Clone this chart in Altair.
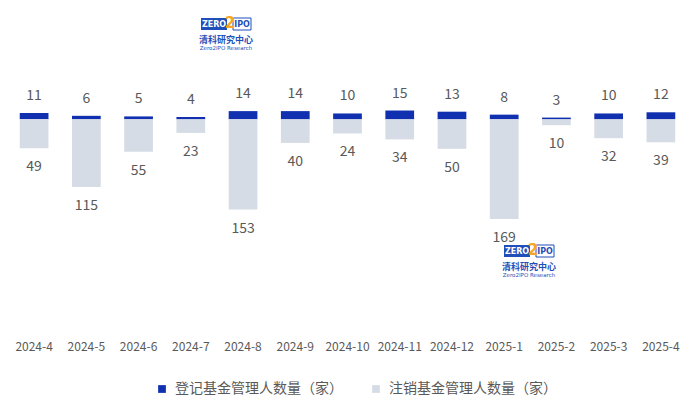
import altair as alt
import pandas as pd

months = ["2024-4", "2024-5", "2024-6", "2024-7", "2024-8", "2024-9", "2024-10",
          "2024-11", "2024-12", "2025-1", "2025-2", "2025-3", "2025-4"]
registered = [11, 6, 5, 4, 14, 14, 10, 15, 13, 8, 3, 10, 12]
cancelled = [49, 115, 55, 23, 153, 40, 24, 34, 50, 169, 10, 32, 39]

S_REG = "登记基金管理人数量（家）"
S_CAN = "注销基金管理人数量（家）"
BLUE = "#1030B0"
GRAY = "#D6DCE5"
FONT = "Noto Sans CJK SC"
TXT = "#595959"

rows = []
for m, r, c in zip(months, registered, cancelled):
    rows.append({"month": m, "series": S_REG, "val": r, "label": str(r)})
    rows.append({"month": m, "series": S_CAN, "val": -c, "label": str(c)})
df = pd.DataFrame(rows)

xenc = alt.X("month:N", sort=months, title=None,
             scale=alt.Scale(paddingInner=0.45, paddingOuter=0.225),
             axis=alt.Axis(domain=False, ticks=False, labelAngle=0, labelFontSize=12,
                           labelColor=TXT, labelFont=FONT, labelPadding=6))
yscale = alt.Scale(domain=[-366, 189], nice=False, zero=True)

base = alt.Chart(df)

bars = base.mark_bar().encode(
    x=xenc,
    y=alt.Y("val:Q", scale=yscale, axis=None),
    color=alt.Color("series:N", sort=[S_REG, S_CAN],
                    scale=alt.Scale(domain=[S_REG, S_CAN], range=[BLUE, GRAY]),
                    legend=alt.Legend(title=None, orient="none", direction="horizontal",
                                      legendX=147, legendY=374, padding=0,
                                      symbolType="square", symbolSize=60,
                                      symbolStrokeWidth=0, labelLimit=400,
                                      labelFontSize=14, labelFont=FONT, labelColor=TXT,
                                      labelOffset=6, columnPadding=26)),
)

pos_labels = base.transform_filter(alt.datum.val > 0).mark_text(
    baseline="middle", dy=-17, fontSize=14, font=FONT, color=TXT
).encode(x=alt.X("month:N", sort=months), y=alt.Y("val:Q", scale=yscale), text="label:N")

neg_labels = base.transform_filter(alt.datum.val < 0).mark_text(
    baseline="middle", dy=19, fontSize=14, font=FONT, color=TXT
).encode(x=alt.X("month:N", sort=months), y=alt.Y("val:Q", scale=yscale), text="label:N")


def logo(cx, cy):
    one = alt.Data(values=[{"k": 0}])
    c = alt.Chart(one)
    box = c.mark_rect(color="#1F4FB8").encode(
        x=alt.value(cx - 25), x2=alt.value(cx + 1), y=alt.value(cy - 6), y2=alt.value(cy + 6))
    box2 = c.mark_rect(fill="white", stroke="#1F4FB8", strokeWidth=1).encode(
        x=alt.value(cx + 7), x2=alt.value(cx + 25), y=alt.value(cy - 6), y2=alt.value(cy + 6))
    t1 = c.mark_text(text="ZERO", color="white", fontSize=8, fontWeight="bold",
                     font="DejaVu Sans", align="center", baseline="middle").encode(
        x=alt.value(cx - 12), y=alt.value(cy + 0.5))
    t2 = c.mark_text(text="2", color="#F5A623", fontSize=15, fontWeight="bold",
                     font="DejaVu Sans", align="center", baseline="middle").encode(
        x=alt.value(cx + 4), y=alt.value(cy - 1))
    t3 = c.mark_text(text="IPO", color="#1F4FB8", fontSize=8, fontWeight="bold",
                     font="DejaVu Sans", align="center", baseline="middle").encode(
        x=alt.value(cx + 16), y=alt.value(cy + 0.5))
    t4 = c.mark_text(text="清科研究中心", color="#1F4FB8", fontSize=9, fontWeight="bold",
                     font=FONT, align="center", baseline="middle").encode(
        x=alt.value(cx), y=alt.value(cy + 16))
    t5 = c.mark_text(text="Zero2IPO Research", color="#1F4FB8", fontSize=5.5,
                     font="DejaVu Sans", align="center", baseline="middle").encode(
        x=alt.value(cx), y=alt.value(cy + 24))
    return [box, box2, t1, t2, t3, t4, t5]


layers = [bars, pos_labels, neg_labels] + logo(218, 16) + logo(521, 243)

chart = alt.layer(*layers).properties(
    width=679, height=327, padding=0, autosize=alt.AutoSizeParams(type="pad")
).configure_view(stroke=None).configure_axis(grid=False)

chart.save("out.html", embed_options={"renderer": "svg", "actions": False})
